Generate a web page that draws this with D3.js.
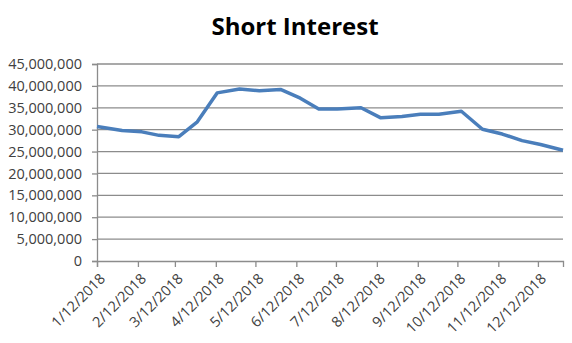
<!DOCTYPE html>
<html>
<head>
<meta charset="utf-8">
<script src="https://d3js.org/d3.v7.min.js"></script>
<style>
  body { margin: 0; background: #fff; }
  svg text { font-family: "Open Sans", sans-serif; fill: #404040; }
  .title { font-weight: bold; fill: #000; }
</style>
</head>
<body>
<svg id="chart" width="572" height="343"></svg>
<script>
// settlement dates and short interest (shares)
var dates = ["1/12/2018", "1/31/2018", "2/15/2018", "2/28/2018", "3/15/2018", "3/29/2018",
             "4/13/2018", "4/30/2018", "5/15/2018", "5/31/2018", "6/15/2018", "6/29/2018",
             "7/13/2018", "7/31/2018", "8/15/2018", "8/31/2018", "9/14/2018", "9/28/2018",
             "10/15/2018", "10/31/2018", "11/15/2018", "11/30/2018", "12/14/2018", "12/31/2018"];
var shortInterest = [30700000, 29800000, 29500000, 28700000, 28400000, 31800000,
                     38400000, 39300000, 38900000, 39200000, 37200000, 34700000,
                     34700000, 35000000, 32700000, 33000000, 33500000, 33500000,
                     34200000, 30100000, 29000000, 27500000, 26600000, 25300000];
var tickLabels = ["1/12/2018", "2/12/2018", "3/12/2018", "4/12/2018", "5/12/2018", "6/12/2018",
                  "7/12/2018", "8/12/2018", "9/12/2018", "10/12/2018", "11/12/2018", "12/12/2018"];
var yTicks = [0, 5000000, 10000000, 15000000, 20000000, 25000000, 30000000, 35000000, 40000000, 45000000];

var parse = d3.timeParse("%m/%d/%Y");
var data = dates.map(function(d, i) { return { date: parse(d), value: shortInterest[i] }; });

var svg = d3.select("#chart");
var plotLeft = 97, plotRight = 563, plotTop = 64, plotBottom = 261;

var x = d3.scaleTime()
    .domain(d3.extent(data, function(d) { return d.date; }))
    .range([plotLeft, plotRight]);
var y = d3.scaleLinear()
    .domain([0, 45000000])
    .range([plotBottom, plotTop]);

// title
svg.append("text")
    .attr("class", "title")
    .attr("x", 295)
    .attr("y", 35)
    .attr("text-anchor", "middle")
    .style("font-size", "24px")
    .text("Short Interest");

// gridlines
svg.append("g")
    .selectAll("line")
    .data(yTicks.slice(1))
    .enter().append("line")
    .attr("x1", plotLeft).attr("x2", plotRight)
    .attr("y1", function(d) { return y(d); })
    .attr("y2", function(d) { return y(d); })
    .attr("stroke", "#8c8c8c")
    .attr("stroke-width", 1.3);

// y axis
var yAxis = svg.append("g")
    .attr("transform", "translate(" + plotLeft + ",0)")
    .call(d3.axisLeft(y).tickValues(yTicks).tickFormat(d3.format(",")).tickSize(5).tickPadding(10));
yAxis.selectAll("text").style("font-size", "14.5px");

// x axis
var xAxis = svg.append("g")
    .attr("transform", "translate(0," + plotBottom + ")")
    .call(d3.axisBottom(x).tickValues(tickLabels.map(parse)).tickSize(6).tickFormat(d3.timeFormat("%-m/%-d/%Y")));
xAxis.selectAll("text")
    .style("font-size", "14.5px")
    .attr("text-anchor", "end")
    .attr("transform", "translate(5,15) rotate(-45)")
    .attr("dy", "0.35em")
    .attr("y", 0)
    .attr("x", 0);

svg.selectAll(".domain, .tick line").attr("stroke", "#8c8c8c").attr("stroke-width", 1.3);

// line
svg.append("path")
    .datum(data)
    .attr("fill", "none")
    .attr("stroke", "#4a7ebb")
    .attr("stroke-width", 3.5)
    .attr("stroke-linejoin", "round")
    .attr("d", d3.line()
        .x(function(d) { return x(d.date); })
        .y(function(d) { return y(d.value); }));
</script>
</body>
</html>
